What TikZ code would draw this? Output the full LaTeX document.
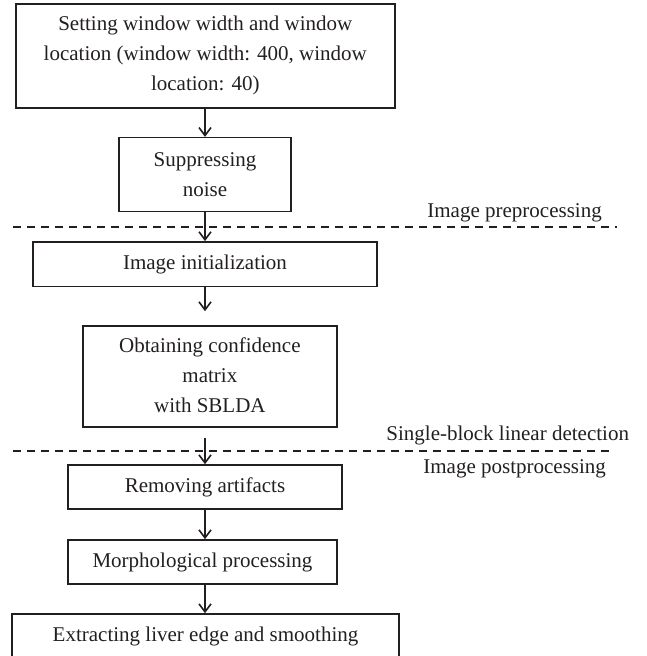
\documentclass[tikz,border=0pt]{standalone}
\usepackage{fontspec}
\setmainfont{Liberation Serif}
\usetikzlibrary{arrows.meta}
\definecolor{ink}{RGB}{35,31,32}
\tikzset{
  stepbox/.style={draw=ink, line width=0.8pt, inner sep=0pt, align=center,
    text=ink, font=\fontsize{10.5pt}{15pt}\selectfont},
  phase/.style={anchor=base west, inner sep=0pt, text=ink,
    font=\fontsize{10.5pt}{15pt}\selectfont},
  divider/.style={draw=ink, line width=0.6pt, dash pattern=on 4pt off 3pt},
  flow/.style={->, draw=ink, line width=0.8pt}
}

\begin{document}
\begin{tikzpicture}[x=0.5pt,y=-0.5pt,>={Straight Barb[length=4pt,width=6pt]}]
\useasboundingbox (0,0) rectangle (646,656);
\coordinate (axis) at (205,0);
% processing steps
\node[stepbox,minimum width=189.5pt,minimum height=52pt] (setwin) at (205.3,55.8)
  {Setting window width and window\\location (window width: 400, window\\location: 40)};
\node[stepbox,minimum width=86pt,minimum height=37pt] (noise) at (205,174.7) {Suppressing\\noise};
\node[stepbox,minimum width=172pt,minimum height=22.3pt] (init) at (205,264.2) {Image initialization};
\node[stepbox,minimum width=127pt,minimum height=50.5pt,text depth=1.5pt] (conf) at (209.9,376.5)
  {Obtaining confidence\\matrix\\with SBLDA};
\node[stepbox,minimum width=137pt,minimum height=22pt] (artif) at (205,487) {Removing artifacts};
\node[stepbox,minimum width=134.5pt,minimum height=22pt] (morph) at (202.5,562) {Morphological processing};
\node[stepbox,minimum width=193.5pt,minimum height=22pt] (liver) at (205.5,636)
  {Extracting liver edge and smoothing};
% stage labels
\node[phase] (pre) at (427,218) {Image preprocessing};
\node[phase] (sbld) at (386,440.7) {Single-block linear detection};
\node[phase] (post) at (423,473) {Image postprocessing};
\draw[divider] (13,227) -- (617,227);
\draw[divider] (13,451) -- (613,451);
\path
(setwin.south -| axis) edge[flow] (noise.north -| axis)
(noise.south -| axis) edge[flow] (init.north -| axis)
(init.south -| axis) edge[flow,shorten >=7pt] (conf.north -| axis)
(conf.south -| axis) edge[flow,shorten <=5pt] (artif.north -| axis)
(artif.south -| axis) edge[flow] (morph.north -| axis)
(morph.south -| axis) edge[flow] (liver.north -| axis);
\end{tikzpicture}
\end{document}
